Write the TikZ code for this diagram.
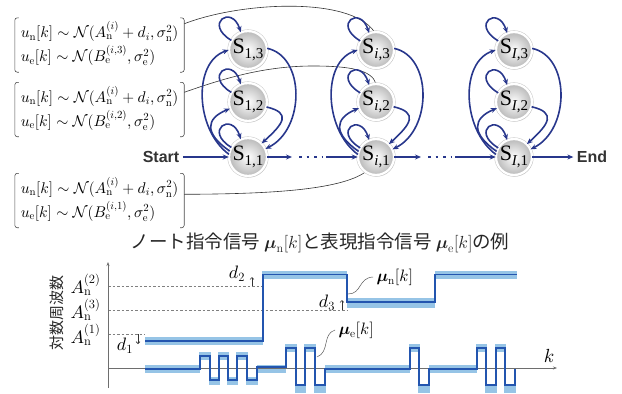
\RequirePackage{fix-cm}
\documentclass[tikz,border=0pt]{standalone}
\usepackage{amsmath}
\usepackage{fontspec}
\DeclareFontShape{OML}{cmm}{m}{it}{<->s*cmmi10}{}
\DeclareFontShape{OML}{cmm}{b}{it}{<->s*cmmib10}{}
\DeclareFontShape{OMS}{cmsy}{m}{n}{<->s*cmsy10}{}
\DeclareFontShape{OMS}{cmsy}{b}{n}{<->s*cmbsy10}{}
\newfontfamily\jpfont{Noto Sans CJK JP}
\newfontfamily\tnrfont{Liberation Serif}
\newfontfamily\arlfont{Liberation Sans}
\usetikzlibrary{arrows.meta,shadows,backgrounds}
\definecolor{navy}{RGB}{40,55,140}
\definecolor{sig}{RGB}{35,85,175}
\definecolor{bandc}{RGB}{150,196,230}
\definecolor{axg}{RGB}{110,110,110}
\definecolor{txtg}{RGB}{51,51,51}
\newcommand\Slab[1]{{\tnrfont\fontsize{22}{22}\selectfont S\raisebox{-5pt}{\fontsize{15}{15}\selectfont #1}}}
\begin{document}
\begin{tikzpicture}[x=1pt,y=-1pt,
  st/.style={circle, minimum size=36pt, inner sep=0pt, shading=radial, inner color=white, outer color=gray!55,
    draw=gray!45, line width=0.5pt, double=white, double distance=2.2pt,
    drop shadow={shadow xshift=1pt, shadow yshift=-1.5pt, opacity=0.35}},
  arr/.style={draw=navy, line width=1.6pt, -{Stealth[length=6pt,width=5pt]}},
  dotl/.style={draw=navy, line width=1.6pt, dash pattern=on 2.5pt off 5pt},
  eqn/.style={minimum width=169pt, minimum height=54pt, inner sep=0pt, font=\fontsize{15.5}{24}\selectfont},
  brk/.style={draw=gray!60!black, line width=0.6pt, rounded corners=2.5pt},
  con/.style={draw=gray!40!black, line width=0.6pt},
  lbl/.style={font=\arlfont\bfseries\fontsize{16}{16}\selectfont, text=txtg},
  axis/.style={draw=axg, line width=0.8pt, -{Stealth[length=4pt,width=3pt]}},
  dsh/.style={draw=gray, line width=0.5pt, dash pattern=on 2.5pt off 2pt},
  bd/.style={draw=bandc, line width=8pt},
  sg/.style={draw=sig, line width=1.8pt},
  darr/.style={draw=black!80, line width=0.6pt, -{Straight Barb[length=2pt,width=4pt]}},
  lead/.style={draw=gray!70!black, line width=0.5pt},
  mth/.style={font=\fontsize{18}{18}\selectfont},
  mthm/.style={font=\fontsize{16.5}{16.5}\selectfont}
]
\useasboundingbox (0,0) rectangle (622,394);

% ---------- equation boxes ----------
\node[eqn] (e1) at (99.5,45) {$\begin{array}{@{}l@{}}
 u_{\mathrm{n}}[k]\sim\mathcal{N}(A_{\mathrm{n}}^{(i)}+d_i,\sigma_{\mathrm{n}}^2)\\
 u_{\mathrm{e}}[k]\sim\mathcal{N}(B_{\mathrm{e}}^{(i,3)},\sigma_{\mathrm{e}}^2)\end{array}$};
\node[eqn] (e2) at (99.5,109.5) {$\begin{array}{@{}l@{}}
 u_{\mathrm{n}}[k]\sim\mathcal{N}(A_{\mathrm{n}}^{(i)}+d_i,\sigma_{\mathrm{n}}^2)\\
 u_{\mathrm{e}}[k]\sim\mathcal{N}(B_{\mathrm{e}}^{(i,2)},\sigma_{\mathrm{e}}^2)\end{array}$};
\node[eqn] (e3) at (99.5,200.5) {$\begin{array}{@{}l@{}}
 u_{\mathrm{n}}[k]\sim\mathcal{N}(A_{\mathrm{n}}^{(i)}+d_i,\sigma_{\mathrm{n}}^2)\\
 u_{\mathrm{e}}[k]\sim\mathcal{N}(B_{\mathrm{e}}^{(i,1)},\sigma_{\mathrm{e}}^2)\end{array}$};
\foreach \e in {e1,e2,e3} {
  \draw[brk] ([xshift=4pt]\e.north west) -- (\e.north west) -- (\e.south west) -- ([xshift=4pt]\e.south west);
  \draw[brk] ([xshift=-4pt]\e.north east) -- (\e.north east) -- (\e.south east) -- ([xshift=-4pt]\e.south east);
}

% ---------- states ----------
\foreach \c/\x/\s in {a/248/1, b/376/\textit{i}, c/514/\textit{I}} {
  \node[st] (\c1) at (\x,157) {\Slab{\s,1}};
  \node[st] (\c2) at (\x,102) {\Slab{\s,2}};
  \node[st] (\c3) at (\x,50) {\Slab{\s,3}};
  \foreach \k in {1,2,3}
    \draw[arr] (\c\k.150) .. controls +(-28,-17) and +(-9,-28) .. (\c\k.112);
  \draw[arr] (\c3.5) .. controls +(38,8) and +(40,-20) .. (\c1.25);
  \draw[arr] (\c2.-15) .. controls +(25,6) and +(22,-20) .. (\c1.45);
  \draw[arr] (\c1.172) .. controls +(-34,-25) and +(-36,12) .. (\c3.180);
  \draw[arr] (\c1.162) .. controls +(-26,-18) and +(-24,10) .. (\c2.200);
}

\node[lbl] (start) at (161,157) {Start};
\node[lbl] (endn) at (592,157) {End};
\coordinate (d1a) at (292,157); \coordinate (d1s) at (299,157);
\coordinate (d1t) at (322,157); \coordinate (d1b) at (326,157);
\coordinate (d2a) at (421,157); \coordinate (d2s) at (428,157);
\coordinate (d2t) at (451,157); \coordinate (d2b) at (455,157);
\draw[arr] (start) -- (a1);
\draw[arr] (a1) -- (d1a);
\draw[dotl] (d1s) -- (d1t);
\draw[arr] (d1b) -- (b1);
\draw[arr] (b1) -- (d2a);
\draw[dotl] (d2s) -- (d2t);
\draw[arr] (d2b) -- (c1);
\draw[arr] (c1) -- (endn);

\begin{scope}[on background layer]
\draw[con] ([yshift=-6pt]e1.north east) .. controls (240,2) and (350,-4) .. (b3.95);
\draw[con] ([yshift=-10pt]e2.north east) .. controls (225,78) and (265,66) .. (313,66)
   .. controls (350,66) and (372,70) .. (b2.north);
\draw[con] ([yshift=-21pt]e3.north east) .. controls (270,194) and (340,190) .. (b1.235);
\end{scope}

% ---------- title ----------
\node[text=black!85] (title) at (320,243) {\jpfont\fontsize{18.5}{18.5}\selectfont ノート指令信号 {\fontsize{17.5}{17.5}\selectfont$\boldsymbol{\mu}_{\mathrm{n}}[k]$}と表現指令信号 {\fontsize{17.5}{17.5}\selectfont$\boldsymbol{\mu}_{\mathrm{e}}[k]$}の例};

% ---------- graph ----------
\node[rotate=90, text=black!85] (ylab) at (57,313) {\jpfont\fontsize{15}{15}\selectfont 対数周波数};

\coordinate (yb) at (108,388); \coordinate (yt) at (108,262);
\coordinate (xl) at (108,368); \coordinate (xr) at (557,368);

\coordinate (g2a) at (108,286); \coordinate (g2b) at (262,286);
\coordinate (g3a) at (108,310); \coordinate (g3b) at (347,310);
\coordinate (g1a) at (108,334); \coordinate (g1b) at (145,334);
\draw[dsh] (g2a) -- (g2b);
\draw[dsh] (g3a) -- (g3b);
\draw[dsh] (g1a) -- (g1b);

\node[mth, anchor=east] (A2) at (104,285) {$A_{\mathrm{n}}^{(2)}$};
\node[mth, anchor=east] (A3) at (104,310) {$A_{\mathrm{n}}^{(3)}$};
\node[mth, anchor=east] (A1) at (104,335) {$A_{\mathrm{n}}^{(1)}$};

% bands
\draw[bd] (145,341) -- (263,341);
\draw[bd] (262,275) -- (347,275);
\draw[bd, line width=10pt] (347,302.5) -- (435,302.5);
\draw[bd] (435,275) -- (517,275);
\foreach \a/\b in {145/200, 257/286, 325/410, 429/477}
  \draw[bd] (\a,369) -- (\b,369);
\foreach \a/\b in {199/211, 218/229, 236/248}
  \draw[bd] (\a,356) -- (\b,356);
\foreach \a/\b in {209/220, 227/238, 246/258}
  \draw[bd] (\a,381) -- (\b,381);
\foreach \a/\b in {285/297, 304/316, 409/420, 476/487, 495/506}
  \draw[bd] (\a,347.5) -- (\b,347.5);
\foreach \a/\b in {295/306, 314/326, 418/430, 485/497, 504/516}
  \draw[bd] (\a,388.5) -- (\b,388.5);

\draw[axis] (yb) -- (yt);
\draw[axis] (xl) -- (xr);

% signals
\draw[sg] (145,341) -- (263,341) -- (263,274.5) -- (347,274.5) -- (347,302) -- (435,302) -- (435,274.5) -- (517,274.5);
\draw[sg] (145,369) -- (200,369) -- (200,356) -- (210,356) -- (210,380) -- (219,380) -- (219,356) -- (228,356)
  -- (228,380) -- (237,380) -- (237,356) -- (247,356) -- (247,380) -- (257,380) -- (257,367) -- (286,367)
  -- (286,348) -- (296,348) -- (296,385) -- (305,385) -- (305,348) -- (315,348) -- (315,385) -- (325,385)
  -- (325,369) -- (410,369) -- (410,348) -- (419,348) -- (419,385) -- (429,385) -- (429,369) -- (477,369)
  -- (477,348) -- (486,348) -- (486,385) -- (496,385) -- (496,348) -- (505,348) -- (505,385) -- (515,385) -- (515,369);

% d annotations
\coordinate (dd1a) at (138,334); \coordinate (dd1b) at (138,344);
\coordinate (dd2a) at (252,286); \coordinate (dd2b) at (252,277);
\coordinate (dd3a) at (342,310); \coordinate (dd3b) at (342,300);
\draw[darr] (dd1a) -- (dd1b);
\draw[darr] (dd2a) -- (dd2b);
\draw[darr] (dd3a) -- (dd3b);
\node[mth] (d1l) at (125,346) {$d_1$};
\node[mth] (d2l) at (237,274) {$d_2$};
\node[mth] (d3l) at (327,303) {$d_3$};

% mu labels
\node[mthm, anchor=west] (mun) at (373,277) {$\boldsymbol{\mu}_{\mathrm{n}}[k]$};
\node[mthm, anchor=west] (mue) at (335,330) {$\boldsymbol{\mu}_{\mathrm{e}}[k]$};
\coordinate (ln) at (348,294);
\coordinate (le) at (317,357);
\draw[lead] (ln) .. controls (362,294) and (358,278) .. (mun.west);
\draw[lead] (le) .. controls (330,352) and (322,334) .. (mue.west);

\node[font=\fontsize{19}{19}\selectfont] (klab) at (549,356) {$k$};
\end{tikzpicture}
\end{document}
